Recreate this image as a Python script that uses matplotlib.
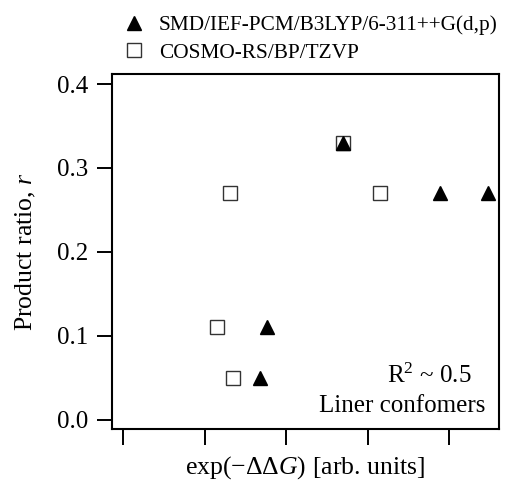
import matplotlib
matplotlib.use('Agg')
import matplotlib.pyplot as plt

plt.rcParams['font.family'] = 'Liberation Serif'
plt.rcParams['mathtext.fontset'] = 'custom'
plt.rcParams['mathtext.rm'] = 'Liberation Serif'
plt.rcParams['mathtext.it'] = 'Liberation Serif:italic'

# Datos (eje x en unidades arbitrarias)
smd_x = [1.68, 1.76, 2.70, 3.89, 4.48]
smd_r = [0.05, 0.11, 0.33, 0.27, 0.27]
cosmo_x = [1.15, 1.35, 1.31, 2.70, 3.15]
cosmo_r = [0.11, 0.05, 0.27, 0.33, 0.27]
y_ticks = [0.0, 0.1, 0.2, 0.3, 0.4]
x_ticks = [0, 1, 2, 3, 4]

fig = plt.figure(figsize=(5.07, 4.92), dpi=100)
ax = fig.add_axes([112 / 507, 1 - 429 / 492, 387 / 507, 355 / 492])

# triangulos encima de los cuadrados
ax.plot(smd_x, smd_r, linestyle='none', marker='^', markersize=10,
        color='black', label='SMD/IEF-PCM/B3LYP/6-311++G(d,p)', zorder=3)
ax.plot(cosmo_x, cosmo_r, linestyle='none', marker='s', markersize=9.5,
        markerfacecolor='white', markeredgecolor='#333333', markeredgewidth=1.0,
        label='COSMO-RS/BP/TZVP', zorder=2)

ax.set_xlim(-0.135, 4.61)
ax.set_ylim(-0.011, 0.412)
ax.set_yticks(y_ticks)
ax.set_yticklabels(['%.1f' % v for v in y_ticks])
ax.set_xticks(x_ticks)
ax.set_xticklabels([])
ax.tick_params(axis='y', direction='out', length=10.8, width=1.4, labelsize=18, pad=6)
ax.tick_params(axis='x', direction='out', length=11.5, width=1.4)
for s in ax.spines.values():
    s.set_linewidth(1.5)

ax.set_ylabel('Product ratio, $r$', fontsize=18.5)
ax.yaxis.set_label_coords(-0.19, 0.5)
ax.set_xlabel(r'exp($-\Delta\Delta G$) [arb. units]', fontsize=18.5)
ax.xaxis.set_label_coords(0.5, -0.07)

ax.text(0.930, 0.130, r'R$^2$ ~ 0.5', transform=ax.transAxes, ha='right',
        va='baseline', fontsize=18)
ax.text(0.966, 0.048, 'Liner confomers', transform=ax.transAxes, ha='right',
        va='baseline', fontsize=18)

fig.legend(loc='upper left', bbox_to_anchor=(113 / 507, 1 - 7 / 492),
           frameon=False, fontsize=15.3, handletextpad=0.55, labelspacing=0.35,
           borderaxespad=0, handlelength=1.2)

fig.savefig('out.png', dpi=100)
